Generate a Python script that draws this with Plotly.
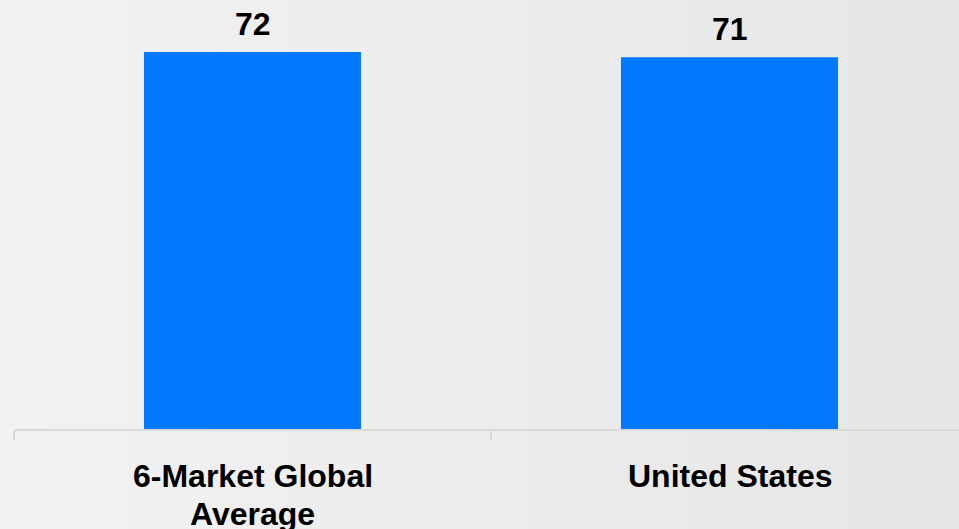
import plotly.graph_objects as go

# Chart data
categories = ["6-Market Global<br>Average", "United States"]
values = [72, 71]
value_labels = ["72", "71"]

W, H = 959, 529
ML, MR, MT, MB = 14, 0, 0, 100
BAR_COLOR = "#0078FF"
FONT = "Liberation Sans, Arial, sans-serif"
LABEL_SIZE = 32
LINE_STEP = 38  # px between the baselines of wrapped category label lines

fig = go.Figure()
fig.add_trace(go.Bar(
    x=categories,
    y=values,
    marker=dict(color=BAR_COLOR, line=dict(width=0)),
    hoverinfo="skip",
))

# Value labels above each bar
for cat, val, lab in zip(categories, values, value_labels):
    fig.add_annotation(
        x=cat, y=val, text=lab, showarrow=False,
        yanchor="bottom", yshift=8,
        font=dict(family=FONT, size=LABEL_SIZE, color="#000000", weight="bold"),
    )

# Category labels under the axis, one annotation per line for tighter leading
for cat in categories:
    for i, line in enumerate(cat.split("<br>")):
        fig.add_annotation(
            x=cat, xref="x", y=0, yref="paper", text=line, showarrow=False,
            yanchor="top", yshift=-27 - i * LINE_STEP,
            font=dict(family=FONT, size=LABEL_SIZE, color="#000000", weight="bold"),
        )

# Soft horizontal gray gradient behind the whole figure
plot_w = W - ML - MR
plot_h = H - MT - MB
n_strips = 60
x_left = -ML / plot_w
x_right = 1 + MR / plot_w
y_bot = -MB / plot_h
c0, c1 = 242.0, 230.0
for i in range(n_strips):
    t0 = i / n_strips
    t1 = (i + 1) / n_strips
    c = c0 + (c1 - c0) * (t0 + t1) / 2
    fig.add_shape(
        type="rect", xref="paper", yref="paper",
        x0=x_left + (x_right - x_left) * t0,
        x1=x_left + (x_right - x_left) * t1 + 0.001,
        y0=y_bot, y1=1.0,
        fillcolor=f"rgb({c:.2f},{c:.2f},{c:.2f})",
        line=dict(width=0), layer="below",
    )

cat_px = 477.0
fig.update_layout(
    width=W, height=H,
    margin=dict(l=ML, r=MR, t=MT, b=MB, pad=0),
    paper_bgcolor="#eeeeee",
    plot_bgcolor="rgba(0,0,0,0)",
    bargap=0.545,
    showlegend=False,
    xaxis=dict(
        type="category",
        range=[-0.5, 1.5 - (2 * cat_px - plot_w) / cat_px],
        showgrid=False, zeroline=False,
        showline=True, linecolor="#d9d9d9", linewidth=2,
        ticks="outside", tickson="boundaries", ticklen=9,
        tickcolor="#d9d9d9", tickwidth=2,
        showticklabels=False,
        fixedrange=True,
    ),
    yaxis=dict(
        range=[0, 81.93],
        visible=False, showgrid=False, zeroline=False,
        fixedrange=True,
    ),
)

fig.write_html("out.html", config={"displayModeBar": False})
